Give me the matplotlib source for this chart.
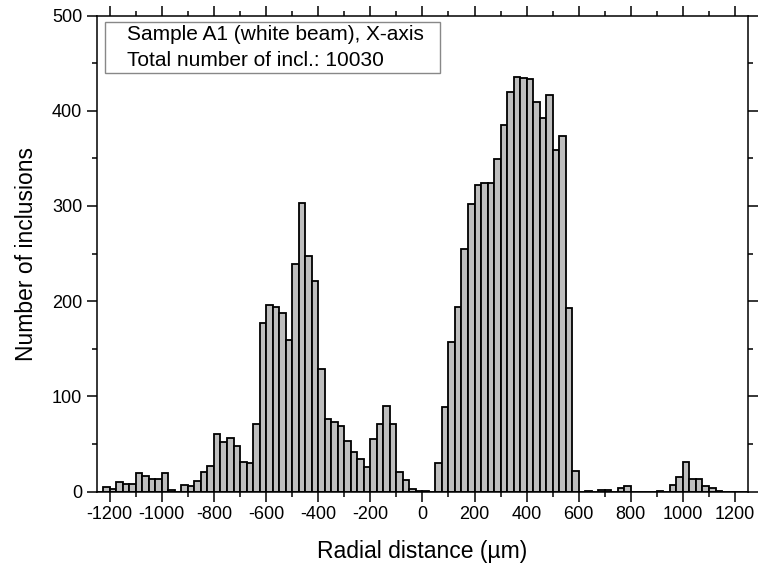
import numpy as np
import matplotlib
matplotlib.use('Agg')
import matplotlib.pyplot as plt
from matplotlib.patches import Rectangle
from matplotlib.ticker import MultipleLocator

plt.rcParams['font.family'] = ['Liberation Sans', 'DejaVu Sans']
plt.rcParams['axes.unicode_minus'] = False

# histogram: 25 um bins from -1250 to 1250
bin_width = 25
bin_left = np.arange(-1250, 1250, bin_width)
counts = [
    0, 5, 3, 10, 8, 8, 19, 16, 13, 13,
    19, 2, 0, 7, 6, 11, 21, 27, 60, 52,
    56, 48, 31, 30, 71, 177, 196, 194, 188, 159,
    239, 303, 247, 221, 129, 76, 73, 69, 53, 42,
    34, 26, 55, 71, 90, 71, 20, 12, 3, 1,
    1, 0, 30, 89, 157, 194, 255, 302, 322, 324,
    324, 349, 385, 420, 435, 434, 433, 409, 392, 417,
    359, 373, 193, 22, 0, 1, 0, 2, 2, 0,
    4, 6, 0, 0, 0, 0, 1, 0, 7, 15,
    31, 13, 13, 6, 4, 1, 0, 0, 0, 0,
]
info_lines = ['Sample A1 (white beam), X-axis', 'Total number of incl.: 10030']

fig = plt.figure(figsize=(7.72, 5.73), dpi=100)
ax = fig.add_axes([0.1253, 0.1422, 0.8437, 0.8307])

ax.bar(bin_left, counts, width=bin_width, align='edge',
       color='#bebebe', edgecolor='black', linewidth=1.3)

ax.set_xlim(-1250, 1250)
ax.set_ylim(0, 500)
ax.xaxis.set_major_locator(MultipleLocator(200))
ax.xaxis.set_minor_locator(MultipleLocator(100))
ax.yaxis.set_major_locator(MultipleLocator(100))
ax.yaxis.set_minor_locator(MultipleLocator(50))
ax.tick_params(which='both', direction='out', top=True, right=True,
               width=1.1, labelsize=13)
ax.tick_params(which='major', length=7)
ax.tick_params(which='minor', length=3.5)
for s in ax.spines.values():
    s.set_linewidth(1.1)

ax.set_xlabel('Radial distance (\u00b5m)', fontsize=16.5, labelpad=12)
ax.set_ylabel('Number of inclusions', fontsize=16.5, labelpad=10)

# info box
ax.add_patch(Rectangle((0.0127, 0.880), 0.515, 0.107, transform=ax.transAxes,
                       facecolor='white', edgecolor='#888888', linewidth=1, zorder=3))
ax.text(0.046, 0.961, info_lines[0], transform=ax.transAxes, fontsize=15,
        va='center', ha='left', zorder=4)
ax.text(0.046, 0.906, info_lines[1], transform=ax.transAxes, fontsize=15,
        va='center', ha='left', zorder=4)

fig.savefig('out.png', dpi=100)
